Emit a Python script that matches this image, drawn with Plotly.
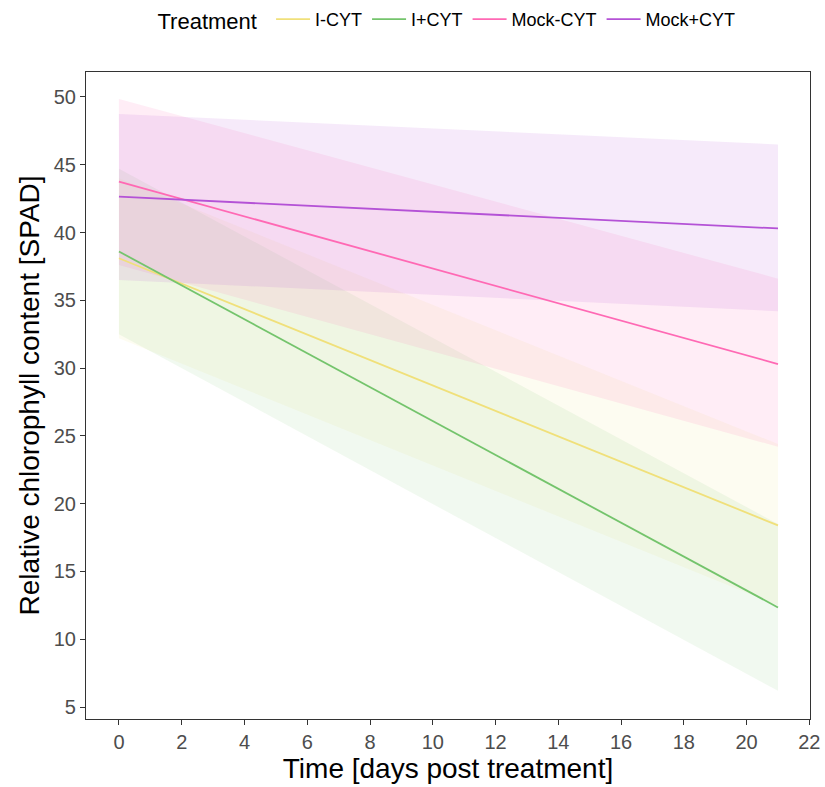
import plotly.graph_objects as go

treatments = ["I-CYT", "I+CYT", "Mock-CYT", "Mock+CYT"]
colors = ["#F0E07A", "#74C46C", "#FF69B4", "#B452D6"]
fills = ["rgba(240,224,122,0.10)", "rgba(116,196,108,0.10)", "rgba(255,105,180,0.12)", "rgba(180,82,214,0.12)"]

days = [0, 21]
fit_values = {
    "I-CYT": [38.1, 18.4],
    "I+CYT": [38.6, 12.35],
    "Mock-CYT": [43.75, 30.3],
    "Mock+CYT": [42.65, 40.3],
}
lower_values = {
    "I-CYT": [32.2, 12.5],
    "I+CYT": [32.5, 6.2],
    "Mock-CYT": [37.6, 24.2],
    "Mock+CYT": [36.5, 34.2],
}
upper_values = {
    "I-CYT": [44.0, 24.4],
    "I+CYT": [44.7, 18.5],
    "Mock-CYT": [49.85, 36.6],
    "Mock+CYT": [48.75, 46.5],
}

fig = go.Figure()
for t, c, f in zip(treatments, colors, fills):
    fig.add_trace(go.Scatter(
        x=days + days[::-1],
        y=upper_values[t] + lower_values[t][::-1],
        fill="toself", fillcolor=f, line=dict(width=0),
        mode="lines", showlegend=False, hoverinfo="skip",
    ))
for t, c in zip(treatments, colors):
    fig.add_trace(go.Scatter(
        x=days, y=fit_values[t], mode="lines", name=t,
        line=dict(color=c, width=1.8),
    ))

axis_common = dict(
    showgrid=False, zeroline=False, showline=True, mirror=True,
    linecolor="#333333", linewidth=1.2, ticks="outside", ticklen=5,
    tickcolor="#333333", tickfont=dict(size=20, color="#4D4D4D", family="Liberation Sans, Arial"),
)
fig.update_layout(
    width=825, height=787,
    margin=dict(l=86, r=15, t=72, b=68, autoexpand=False),
    plot_bgcolor="white", paper_bgcolor="white",
    font=dict(family="Liberation Sans, Arial", color="black"),
    xaxis=dict(range=[-1.05, 22.02], tickvals=list(range(0, 23, 2)),
               title=dict(text="Time [days post treatment]", font=dict(size=28), standoff=3),
               **axis_common),
    yaxis=dict(range=[4.12, 51.84], tickvals=list(range(5, 51, 5)),
               title=dict(text="Relative chlorophyll content [SPAD]", font=dict(size=28), standoff=5),
               **axis_common),
    legend=dict(orientation="h", x=0.5, xanchor="center", y=1.11, yanchor="top",
                title=dict(text="Treatment ", font=dict(size=22)),
                font=dict(size=18), itemwidth=34, tracegroupgap=0),
)
fig.write_html("out.html")
